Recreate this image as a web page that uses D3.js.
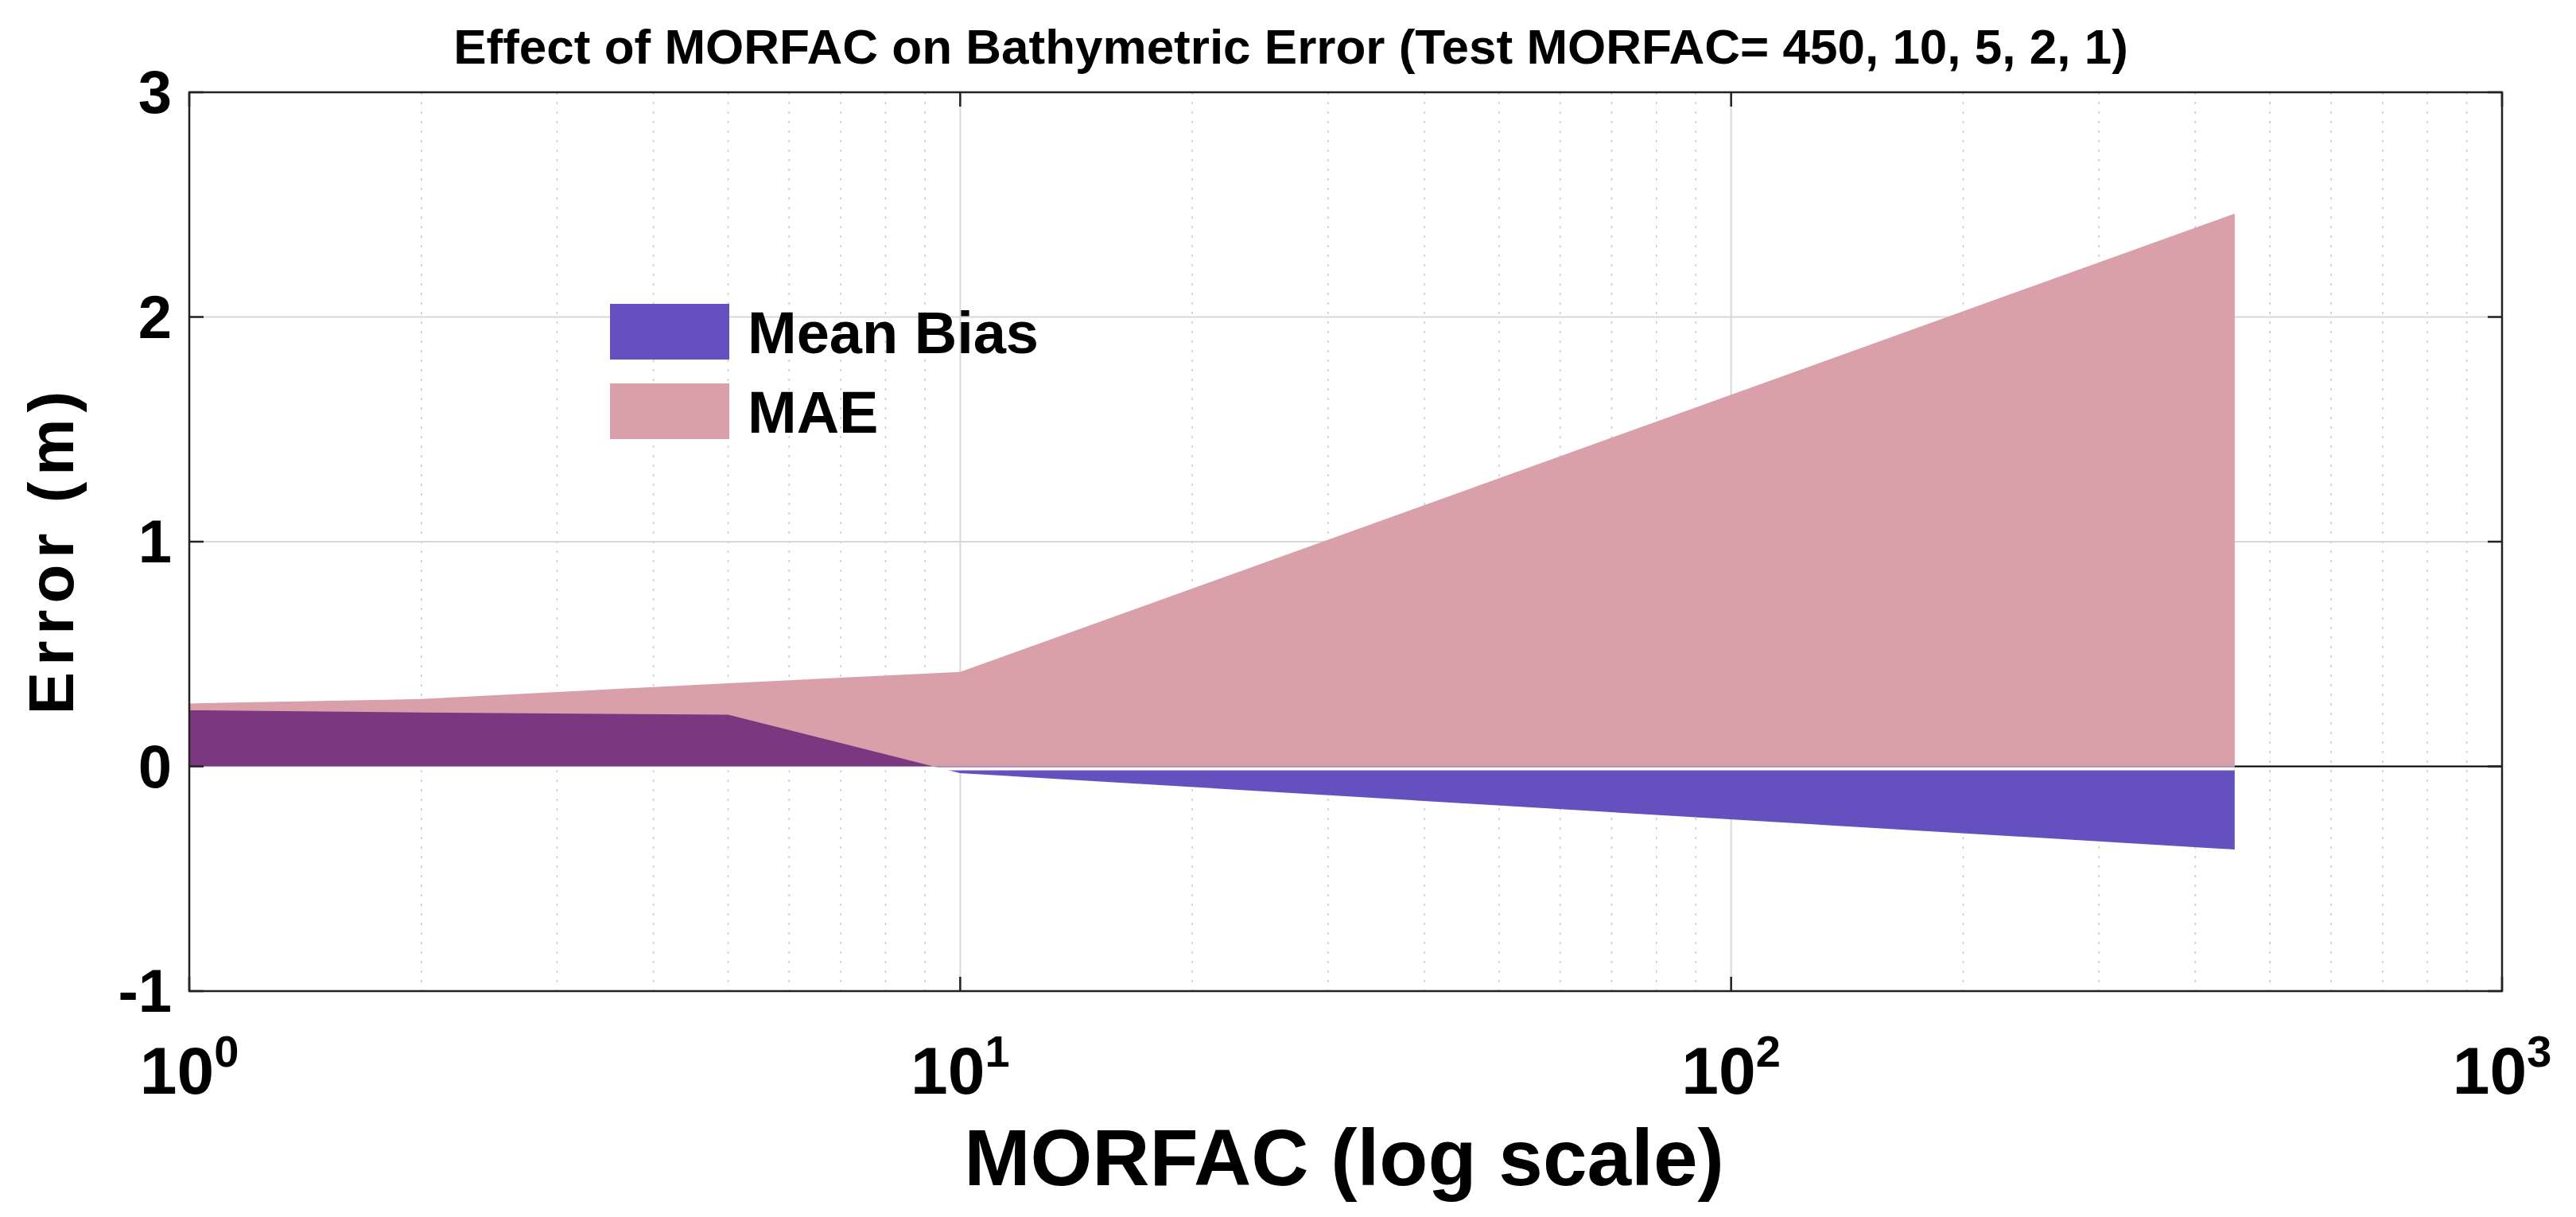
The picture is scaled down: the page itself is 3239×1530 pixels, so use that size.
<!DOCTYPE html>
<html><head><meta charset="utf-8">
<script src="https://cdn.jsdelivr.net/npm/d3@7"></script>
<style>body{margin:0;background:#fff}</style>
</head><body>
<svg id="chart" width="3239" height="1530"></svg>
<script>
// data
var morfac = [1, 2, 5, 10, 450];
var mae = [0.28, 0.30, 0.37, 0.42, 2.46];
var meanBias = [0.25, 0.24, 0.23, -0.03, -0.37];
var yTicks = [-1, 0, 1, 2, 3];
var xDecades = [1, 10, 100, 1000];

var svg = d3.select('#chart');
var m = {left: 238, right: 3146, top: 116, bottom: 1246};
var font = '"Liberation Sans Narrow", "Liberation Sans", Arial, sans-serif';

var x = d3.scaleLog().domain([1, 1000]).range([m.left, m.right]);
var y = d3.scaleLinear().domain([-1, 3]).range([m.bottom, m.top]);

// minor grid (dotted)
var minor = [];
[1, 10, 100].forEach(function(d) { for (var k = 2; k <= 9; k++) minor.push(d * k); });
svg.append('g').selectAll('line').data(minor).join('line')
    .attr('x1', d => x(d)).attr('x2', d => x(d))
    .attr('y1', m.top).attr('y2', m.bottom)
    .attr('stroke', '#c8c8c8').attr('stroke-width', 1.5).attr('stroke-dasharray', '3,9');
// major grid
svg.append('g').selectAll('line').data(xDecades.slice(1, 3)).join('line')
    .attr('x1', d => x(d)).attr('x2', d => x(d))
    .attr('y1', m.top).attr('y2', m.bottom).attr('stroke', '#d8d8d8').attr('stroke-width', 2);
svg.append('g').selectAll('line').data(yTicks.slice(1, 4)).join('line')
    .attr('x1', m.left).attr('x2', m.right)
    .attr('y1', d => y(d)).attr('y2', d => y(d)).attr('stroke', '#d8d8d8').attr('stroke-width', 2);

var pts = morfac.map(function(d, i) { return {x: d, mae: mae[i], bias: meanBias[i]}; });

// MAE area
svg.append('path').datum(pts)
    .attr('d', d3.area().x(d => x(d.x)).y0(y(0)).y1(d => y(d.mae)))
    .attr('fill', '#d9a0aa');

// mean bias: negative part blue, positive part purple (overlap look)
var defs = svg.append('defs');
defs.append('clipPath').attr('id', 'pos').append('rect')
    .attr('x', m.left).attr('y', m.top).attr('width', m.right - m.left).attr('height', y(0) - m.top);
defs.append('clipPath').attr('id', 'neg').append('rect')
    .attr('x', m.left).attr('y', y(0)).attr('width', m.right - m.left).attr('height', m.bottom - y(0));
var biasArea = d3.area().x(d => x(d.x)).y0(y(0)).y1(d => y(d.bias));
svg.append('path').datum(pts).attr('d', biasArea).attr('fill', '#7b3880').attr('clip-path', 'url(#pos)');
svg.append('path').datum(pts).attr('d', biasArea).attr('fill', '#6450be').attr('clip-path', 'url(#neg)');
// thin white separator at zero under the data
svg.append('line').attr('x1', m.left).attr('x2', x(450)).attr('y1', y(0) + 3).attr('y2', y(0) + 3)
    .attr('stroke', '#fff').attr('stroke-width', 4);
svg.append('line').attr('x1', x(450)).attr('x2', m.right).attr('y1', y(0)).attr('y2', y(0))
    .attr('stroke', '#000').attr('stroke-width', 2);

// box and ticks
svg.append('rect').attr('x', m.left).attr('y', m.top).attr('width', m.right - m.left)
    .attr('height', m.bottom - m.top).attr('fill', 'none').attr('stroke', '#222').attr('stroke-width', 2.5);
yTicks.forEach(function(t) {
    svg.append('line').attr('x1', m.left).attr('x2', m.left + 18).attr('y1', y(t)).attr('y2', y(t)).attr('stroke', '#222').attr('stroke-width', 2.5);
    svg.append('line').attr('x1', m.right - 18).attr('x2', m.right).attr('y1', y(t)).attr('y2', y(t)).attr('stroke', '#222').attr('stroke-width', 2.5);
    svg.append('text').attr('x', m.left - 22).attr('y', y(t) + 26).attr('text-anchor', 'end')
        .attr('font-family', font).attr('font-weight', 'bold').attr('font-size', 76).text(t);
});
xDecades.forEach(function(t, i) {
    svg.append('line').attr('x1', x(t)).attr('x2', x(t)).attr('y1', m.bottom).attr('y2', m.bottom - 18).attr('stroke', '#222').attr('stroke-width', 2.5);
    svg.append('line').attr('x1', x(t)).attr('x2', x(t)).attr('y1', m.top).attr('y2', m.top + 18).attr('stroke', '#222').attr('stroke-width', 2.5);
    var tx = svg.append('text').attr('x', x(t)).attr('y', 1375).attr('text-anchor', 'middle')
        .attr('font-family', font).attr('font-weight', 'bold').attr('font-size', 84);
    tx.append('tspan').text('10');
    tx.append('tspan').attr('dy', -34).attr('font-size', 56).text(i);
});

// titles
svg.append('text').attr('x', 1623).attr('y', 80).attr('text-anchor', 'middle')
    .attr('font-family', font).attr('font-weight', 'bold').attr('font-size', 62)
    .text('Effect of MORFAC on Bathymetric Error (Test MORFAC= 450, 10, 5, 2, 1)');
svg.append('text').attr('x', 1690).attr('y', 1490).attr('text-anchor', 'middle')
    .attr('font-family', font).attr('font-weight', 'bold').attr('font-size', 100)
    .text('MORFAC (log scale)');
svg.append('text').attr('transform', 'translate(92,' + ((m.top + m.bottom) / 2 + 10) + ') rotate(-90)')
    .attr('text-anchor', 'middle').attr('font-family', '"Liberation Sans", Arial, sans-serif')
    .attr('font-weight', 'bold').attr('font-size', 80).attr('letter-spacing', 8).text('Error (m)');

// legend
var legend = [{name: 'Mean Bias', color: '#6450be', y: 382}, {name: 'MAE', color: '#d9a0aa', y: 482}];
legend.forEach(function(l) {
    svg.append('rect').attr('x', 767).attr('y', l.y).attr('width', 150).attr('height', 70).attr('fill', l.color);
    svg.append('text').attr('x', 940).attr('y', l.y + 62).attr('font-family', font)
        .attr('font-weight', 'bold').attr('font-size', 74).text(l.name);
});
</script>
</body></html>
